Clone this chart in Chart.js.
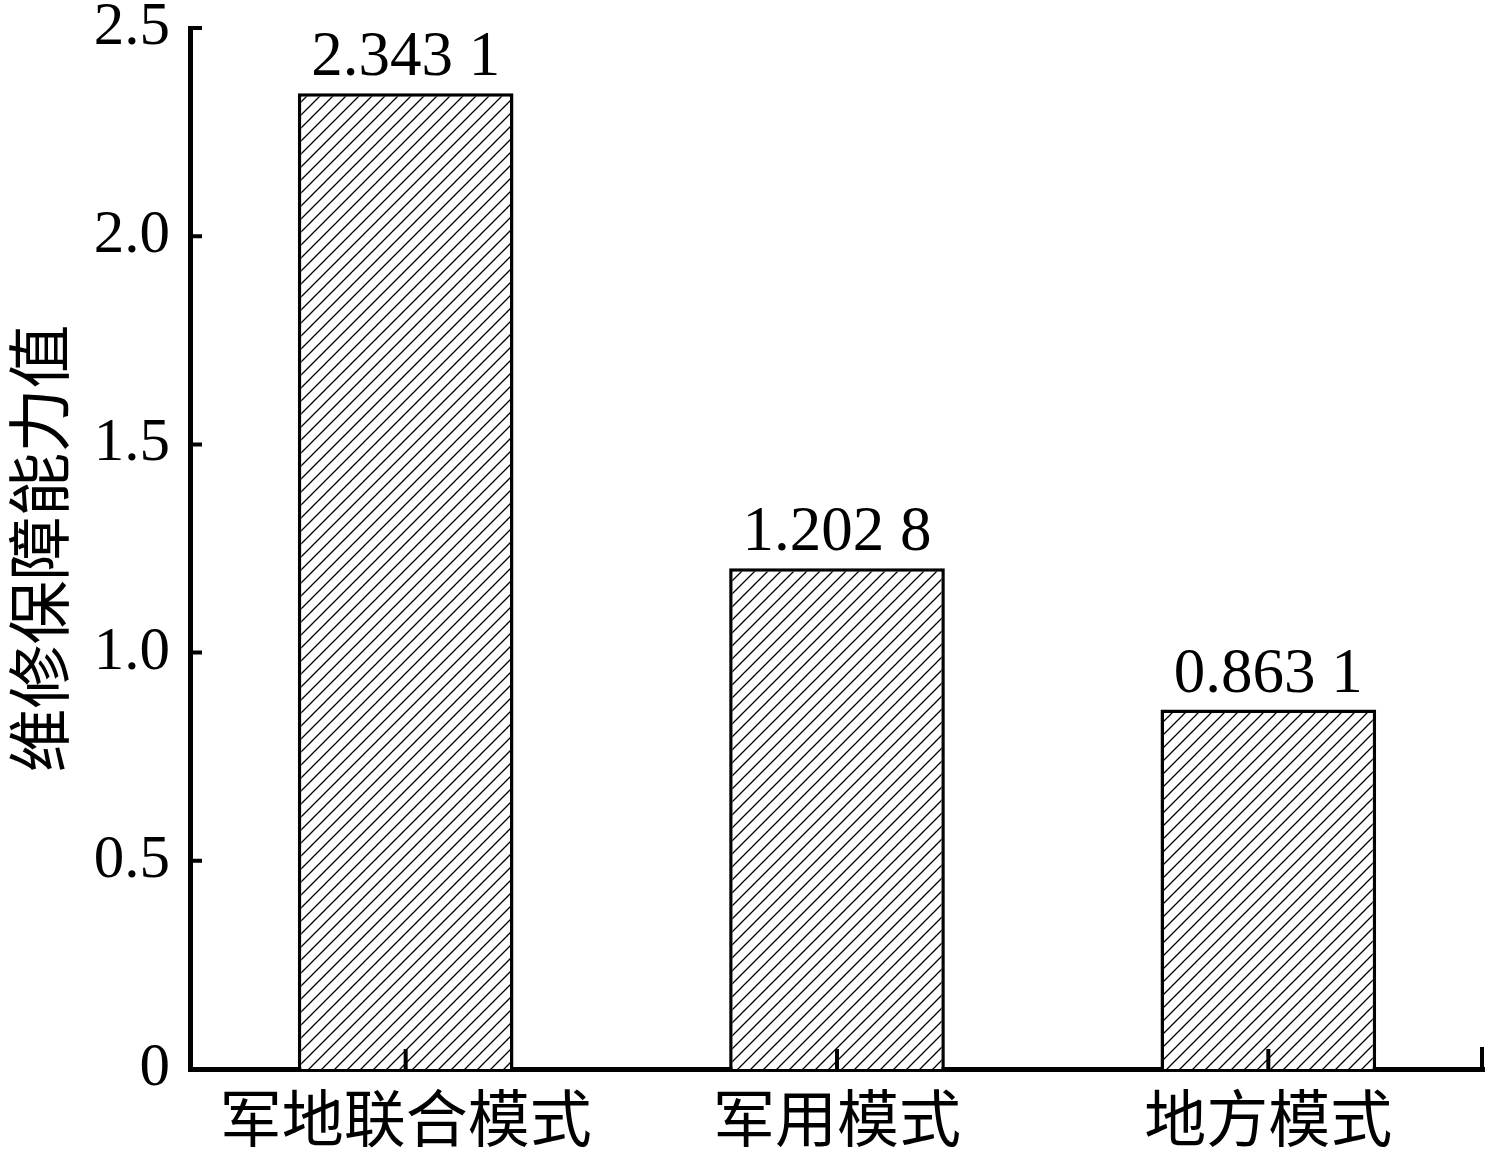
<!DOCTYPE html>
<html>
<head>
<meta charset="utf-8">
<script src="https://cdn.jsdelivr.net/npm/chart.js@4/dist/chart.umd.min.js"></script>
<style>
  body { margin: 0; background: #fff; }
  canvas { display: block; }
</style>
</head>
<body>
<canvas id="myChart" width="1490" height="1158"></canvas>
<script>
const categories = ['军地联合模式', '军用模式', '地方模式'];
const values = [2.3431, 1.2028, 0.8631];
const valueLabels = ['2.343 1', '1.202 8', '0.863 1'];
const yTicks = [0, 0.5, 1.0, 1.5, 2.0, 2.5];
const yTitle = '维修保障能力值';

const serif = '"Liberation Serif", "Times New Roman", serif';
const cjk = '"Noto Sans CJK SC", sans-serif';

// diagonal hatch fill
function makeHatch() {
    const s = 13;
    let c = document.createElement('canvas');
    c.width = s;
    c.height = s;
    let g = c.getContext('2d');
    g.fillStyle = '#fff';
    g.fillRect(0, 0, s, s);
    g.strokeStyle = '#000';
    g.lineWidth = 1.3;
    g.beginPath();
    g.moveTo(-1, s + 1); g.lineTo(s + 1, -1);
    g.moveTo(-s / 2 - 1, s / 2 + 1); g.lineTo(s / 2 + 1, -s / 2 - 1);
    g.moveTo(s / 2 - 1, s * 1.5 + 1); g.lineTo(s * 1.5 + 1, s / 2 - 1);
    g.stroke();
    return g.createPattern(c, 'repeat');
}

// inward ticks + value labels
const extras = {
    id: 'extras',
    afterDatasetsDraw(chart) {
        const ctx = chart.ctx;
        const x = chart.scales.x;
        const y = chart.scales.y;
        const area = chart.chartArea;
        ctx.save();
        ctx.strokeStyle = '#000';
        ctx.lineWidth = 4;
        ctx.beginPath();
        yTicks.forEach(v => {
            let py = y.getPixelForValue(v);
            ctx.moveTo(area.left, py);
            ctx.lineTo(area.left + 12, py);
        });
        categories.forEach((c, i) => {
            let px = x.getPixelForValue(i);
            ctx.moveTo(px, area.bottom);
            ctx.lineTo(px, area.bottom - 20);
        });
        ctx.moveTo(area.right - 2, area.bottom);
        ctx.lineTo(area.right - 2, area.bottom - 22);
        ctx.stroke();

        ctx.fillStyle = '#000';
        ctx.font = '63px ' + serif;
        ctx.textAlign = 'center';
        ctx.textBaseline = 'alphabetic';
        const meta = chart.getDatasetMeta(0);
        meta.data.forEach((bar, i) => {
            ctx.fillText(valueLabels[i], bar.x, bar.y - 18);
        });
        ctx.restore();
    }
};

let ctx = document.getElementById('myChart');

var myChart = new Chart(ctx, {
    type: 'bar',
    data: {
        labels: categories,
        datasets: [{
            data: values,
            backgroundColor: makeHatch(),
            borderColor: '#000',
            borderWidth: 3.5,
            borderSkipped: 'bottom',
            categoryPercentage: 1.0,
            barPercentage: 0.5,
        }]
    },
    options: {
        responsive: false,
        animation: false,
        layout: { padding: { top: 28, right: 6, left: 0, bottom: 0 } },
        plugins: {
            legend: { display: false },
            tooltip: { enabled: false },
        },
        scales: {
            x: {
                grid: { display: false, drawTicks: false },
                border: { display: true, color: '#000', width: 5 },
                ticks: {
                    color: '#000',
                    font: { family: cjk, size: 62 },
                    padding: 12,
                    maxRotation: 0,
                },
                afterFit(scale) {
                    scale.height = 89;
                    scale.paddingLeft = 0;
                    scale.paddingRight = 0;
                },
            },
            y: {
                min: 0,
                max: 2.5,
                afterBuildTicks(scale) {
                    scale.ticks = yTicks.map(v => ({ value: v }));
                },
                grid: { display: false, drawTicks: false },
                border: { display: true, color: '#000', width: 5 },
                ticks: {
                    color: '#000',
                    font: { family: serif, size: 61 },
                    padding: 20,
                    callback: v => v === 0 ? '0' : v.toFixed(1),
                },
                title: {
                    display: true,
                    text: yTitle,
                    color: '#000',
                    font: { family: cjk, size: 64 },
                    padding: { top: 0, bottom: 0 },
                },
                afterFit(scale) {
                    scale.width = 190;
                    scale.paddingTop = 0;
                    scale.paddingBottom = 0;
                },
            }
        }
    },
    plugins: [extras]
});
</script>
</body>
</html>
